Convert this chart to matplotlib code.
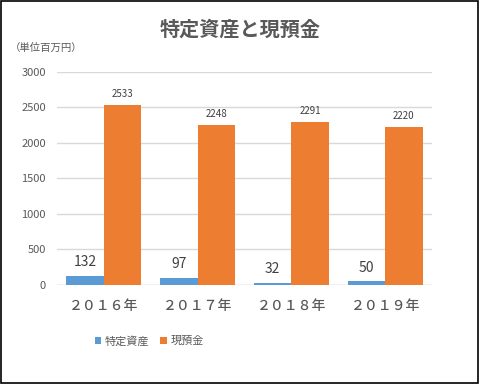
import numpy as np
import matplotlib.pyplot as plt
from matplotlib.patches import Rectangle

plt.rcParams['font.family'] = ['Noto Sans CJK JP', 'DejaVu Sans']

years = ['２０１６年', '２０１７年', '２０１８年', '２０１９年']
tokutei = [132, 97, 32, 50]
genyokin = [2533, 2248, 2291, 2220]
series_names = ['特定資産', '現預金']

blue = '#5B9BD5'
orange = '#ED7D31'
gray = '#595959'

fig = plt.figure(figsize=(4.8, 3.84), dpi=100)
ax = fig.add_axes([0.119, 0.258, 0.781, 0.5545])

x = np.arange(len(years))
w = 0.4
ax.bar(x - w / 2, tokutei, w, color=blue, label=series_names[0], zorder=2)
ax.bar(x + w / 2, genyokin, w, color=orange, label=series_names[1], zorder=2)

for xi, v in zip(x, tokutei):
    ax.text(xi - w / 2, v + 95, str(v), ha='center', va='bottom', fontsize=10, color='#404040')
for xi, v in zip(x, genyokin):
    ax.text(xi + w / 2, v + 90, str(v), ha='center', va='bottom', fontsize=7, color='#404040')

ax.set_xlim(-0.5, len(years) - 0.5)
ax.set_ylim(0, 3000)
ax.set_yticks(range(0, 3001, 500))
ax.tick_params(axis='y', length=0, labelsize=8, labelcolor=gray, pad=8)
ax.set_xticks(x)
ax.set_xticklabels(years, fontsize=10, color=gray, fontweight='medium')
ax.tick_params(axis='x', length=0, pad=10)
ax.grid(axis='y', color='#D9D9D9', linewidth=1, zorder=0)
for s in ax.spines.values():
    s.set_visible(False)
ax.axhline(0, color='#D9D9D9', linewidth=1, zorder=1)

fig.text(0.5, 0.925, '特定資産と現預金', ha='center', va='center', fontsize=14.5,
         fontweight='bold', color=gray)
fig.text(0.02, 0.875, '（単位百万円）', ha='left', va='center', fontsize=7.5, color=gray)

ax.legend(loc='center left', bbox_to_anchor=(0.1, -0.263), ncol=2, frameon=False,
          fontsize=8, handlelength=0.6, handleheight=0.6, handletextpad=0.3, columnspacing=1.0,
          labelcolor=gray, borderaxespad=0, borderpad=0)

fig.add_artist(Rectangle((0.002, 0.003), 0.994, 0.994, transform=fig.transFigure,
                         fill=False, edgecolor='black', linewidth=1.2))

fig.savefig('out.png', dpi=100)
